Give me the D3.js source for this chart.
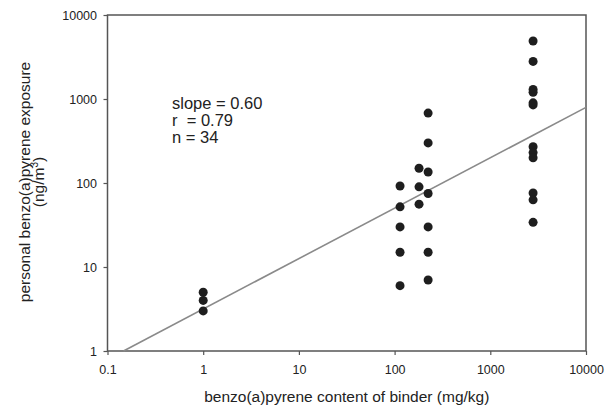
<!DOCTYPE html>
<html>
<head>
<meta charset="utf-8">
<script src="https://cdn.jsdelivr.net/npm/d3@7"></script>
<style>
  html, body { margin: 0; padding: 0; background: #fff; }
  text { font-family: "Liberation Sans", Arial, sans-serif; fill: #222; }
</style>
</head>
<body>
<div id="chart"></div>
<script>
'use strict';

// binder content (mg/kg) for each column of points
var binderContent = [1, 114, 180, 224, 2800];

var exposure = [
    [5, 4, 3],
    [92, 52, 30, 15, 6],
    [150, 90, 56],
    [680, 300, 135, 75, 30, 15, 7],
    [4900, 2800, 1300, 1200, 900, 850, 270, 230, 200, 76, 63, 34]
];

var xTicks = [0.1, 1, 10, 100, 1000, 10000];
var yTicks = [1, 10, 100, 1000, 10000];

// fitted line: log y = slope * log x + intercept
var fitSlope = 0.60;
var fitIntercept = 0.50;
var fitRange = [0.147, 10000];

var statLines = ['slope = 0.60', 'r  = 0.79', 'n = 34'];

var width = 613,
    height = 410,
    plot_left = 107.5,
    plot_right = 586,
    plot_top = 15,
    plot_bottom = 351;

var points = [];
binderContent.forEach(function(bc, i) {
    exposure[i].forEach(function(v) {
        points.push({ x: bc, y: v });
    });
});

var svg = d3.select('#chart').append('svg')
    .attr('width', width)
    .attr('height', height);

var x = d3.scaleLog().domain([0.1, 10000]).range([plot_left, plot_right]);
var y = d3.scaleLog().domain([1, 10000]).range([plot_bottom, plot_top]);

// frame
svg.append('rect')
    .attr('x', plot_left)
    .attr('y', plot_top)
    .attr('width', plot_right - plot_left)
    .attr('height', plot_bottom - plot_top)
    .attr('fill', 'none')
    .attr('stroke', '#555')
    .attr('stroke-width', 1.5);

var xAxis = svg.append('g')
    .attr('transform', 'translate(0,' + plot_bottom + ')')
    .call(d3.axisBottom(x).tickValues(xTicks).tickFormat(function(d) { return String(d); })
        .tickSize(4).tickPadding(10));

var yAxis = svg.append('g')
    .attr('transform', 'translate(' + plot_left + ',0)')
    .call(d3.axisLeft(y).tickValues(yTicks).tickFormat(function(d) { return String(d); })
        .tickSize(4).tickPadding(6.5));

[xAxis, yAxis].forEach(function(a) {
    a.select('.domain').remove();
    a.selectAll('line').attr('stroke', '#555').attr('stroke-width', 1.2);
    a.selectAll('text').attr('font-size', 12.5).attr('fill', '#222')
        .style('font-family', '"Liberation Sans", Arial, sans-serif');
});

// regression line
var fit = fitRange.map(function(v) {
    return { x: v, y: Math.pow(10, fitSlope * Math.log10(v) + fitIntercept) };
});
svg.append('path')
    .datum(fit)
    .attr('fill', 'none')
    .attr('stroke', '#8a8a8a')
    .attr('stroke-width', 1.6)
    .attr('d', d3.line()
        .x(function(d) { return x(d.x); })
        .y(function(d) { return y(d.y); }));

svg.append('g').selectAll('circle').data(points)
    .enter().append('circle')
    .attr('cx', function(d) { return x(d.x); })
    .attr('cy', function(d) { return y(d.y); })
    .attr('r', 4.5)
    .attr('fill', '#1e1e1e');

// stats
svg.append('text')
    .attr('x', 172)
    .attr('y', 109)
    .attr('font-size', 16.5)
    .style('white-space', 'pre')
    .selectAll('tspan').data(statLines)
    .enter().append('tspan')
    .attr('x', 172)
    .attr('dy', function(d, i) { return i === 0 ? 0 : 17; })
    .text(function(d) { return d; });

// axis titles
svg.append('text')
    .attr('x', (plot_left + plot_right) / 2)
    .attr('y', 402)
    .attr('text-anchor', 'middle')
    .attr('font-size', 15.5)
    .text('benzo(a)pyrene content of binder (mg/kg)');

var yTitle = svg.append('text')
    .attr('transform', 'translate(29.5,182) rotate(-90)')
    .attr('text-anchor', 'middle')
    .attr('font-size', 15.5);
yTitle.append('tspan').attr('x', 0).attr('y', 0).text('personal benzo(a)pyrene exposure');
var unit = yTitle.append('tspan').attr('x', 0).attr('y', 14);
unit.append('tspan').text('(ng/m');
unit.append('tspan').attr('font-size', 10).attr('dy', -6).text('3');
unit.append('tspan').attr('dy', 6).text(')');
</script>
</body>
</html>
